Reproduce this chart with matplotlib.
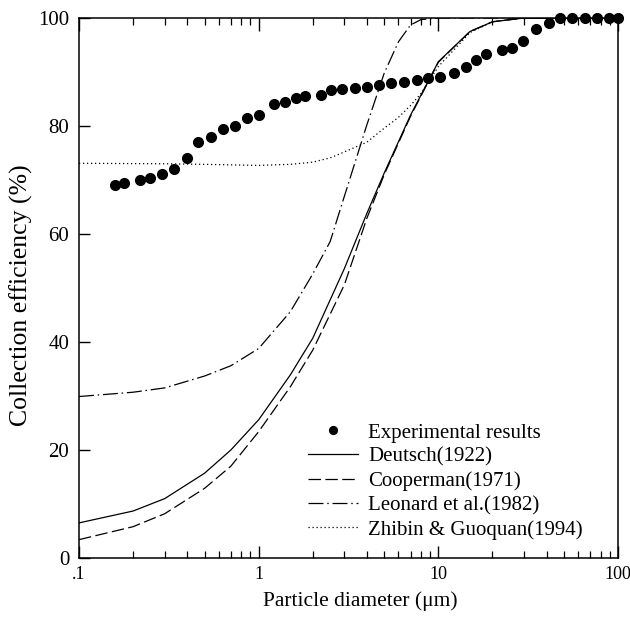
import matplotlib
matplotlib.use("Agg")
import matplotlib.pyplot as plt
from matplotlib.ticker import FixedLocator, FixedFormatter, LogLocator, NullFormatter

plt.rcParams['font.family'] = ['Liberation Serif', 'DejaVu Serif']
plt.rcParams['mathtext.fontset'] = 'stix'

# Experimental results
exp_d = [0.159, 0.179, 0.219, 0.249, 0.290, 0.340, 0.400, 0.460, 0.541, 0.632,
         0.741, 0.865, 1.00, 1.21, 1.41, 1.62, 1.81, 2.22, 2.52, 2.91,
         3.44, 4.01, 4.66, 5.46, 6.40, 7.57, 8.75, 10.2, 12.3, 14.3,
         16.3, 18.4, 22.6, 25.6, 29.7, 34.8, 41.3, 47.6, 55.3, 65.2,
         76.3, 88.7, 100.0]
exp_eff = [69.1, 69.5, 70.0, 70.3, 71.1, 72.0, 74.0, 77.0, 78.0, 79.5,
           80.0, 81.5, 82.0, 84.1, 84.4, 85.1, 85.6, 85.8, 86.6, 86.8,
           87.0, 87.2, 87.5, 87.9, 88.1, 88.5, 88.8, 89.1, 89.8, 91.0,
           92.3, 93.4, 94.1, 94.5, 95.7, 97.9, 99.0, 100.0, 100.0, 100.0,
           100.0, 100.0, 100.0]

# Deutsch (1922)
deu_d = [0.1, 0.2, 0.3, 0.5, 0.7, 1.0, 1.5, 2.0, 3.0, 4.0, 5.0, 7.0, 10.0, 15.0, 20.0, 30.0, 100.0]
deu_eff = [6.5, 8.7, 11.0, 15.7, 20.0, 25.6, 33.9, 40.7, 53.6, 63.8, 71.3, 82.0, 91.9, 97.5, 99.3, 100.0, 100.0]

# Cooperman (1971)
coo_d = [0.1, 0.2, 0.3, 0.5, 0.7, 1.0, 1.5, 2.0, 3.0, 4.0, 5.0, 7.0, 10.0, 15.0, 20.0, 30.0, 100.0]
coo_eff = [3.4, 5.8, 8.2, 12.9, 17.0, 23.4, 31.7, 38.5, 50.6, 62.9, 71.0, 81.8, 91.8, 97.5, 99.3, 100.0, 100.0]

# Leonard et al. (1982)
leo_d = [0.1, 0.2, 0.3, 0.5, 0.7, 1.0, 1.5, 2.0, 2.5, 3.0, 4.0, 5.0, 6.0, 7.0, 8.0, 10.0, 100.0]
leo_eff = [29.9, 30.7, 31.5, 33.7, 35.6, 38.8, 45.6, 52.6, 58.6, 67.0, 80.2, 89.8, 95.6, 98.7, 99.7, 100.0, 100.0]

# Zhibin & Guoquan (1994)
zhi_d = [0.1, 0.3, 0.5, 0.7, 1.0, 1.5, 2.0, 2.5, 3.0, 4.0, 5.0, 6.0, 7.0, 8.0, 10.0, 15.0, 20.0, 30.0, 100.0]
zhi_eff = [73.1, 73.0, 72.9, 72.8, 72.7, 72.9, 73.3, 74.1, 75.2, 77.0, 79.6, 81.6, 83.8, 86.0, 91.0, 97.3, 99.3, 100.0, 100.0]

x_ticks = [0.1, 1, 10, 100]
x_tick_labels = ['.1', '1', '10', '100']
y_ticks = [0, 20, 40, 60, 80, 100]

fig = plt.figure(figsize=(6.30, 6.17), dpi=100)
ax = fig.add_axes([79/630, 1 - 558/617, (618 - 79)/630, (558 - 18)/617])

lw = 0.9
ax.plot(exp_d, exp_eff, 'o', color='black', markersize=7, linestyle='none',
        label='Experimental results', clip_on=False, zorder=5)
ax.plot(deu_d, deu_eff, '-', color='black', lw=lw, label='Deutsch(1922)')
ax.plot(coo_d, coo_eff, color='black', lw=lw, linestyle=(0, (10, 3.5)), label='Cooperman(1971)')
ax.plot(leo_d, leo_eff, color='black', lw=lw, linestyle=(0, (12, 3, 1.2, 3)), label='Leonard et al.(1982)')
ax.plot(zhi_d, zhi_eff, color='black', lw=lw, linestyle=(0, (1, 2.2)), label='Zhibin & Guoquan(1994)')

ax.set_xscale('log')
ax.set_xlim(0.1, 100)
ax.set_ylim(0, 100)

ax.xaxis.set_major_locator(FixedLocator(x_ticks))
ax.xaxis.set_major_formatter(FixedFormatter(x_tick_labels))
ax.xaxis.set_minor_locator(LogLocator(base=10, subs=range(2, 10)))
ax.xaxis.set_minor_formatter(NullFormatter())
ax.yaxis.set_major_locator(FixedLocator(y_ticks))

ax.tick_params(axis='x', which='major', direction='in', length=9, width=1.0, top=True,
               labelsize=13, pad=6)
ax.tick_params(axis='x', which='minor', direction='in', length=5, width=0.9, top=True)
ax.tick_params(axis='y', which='major', direction='in', length=8, width=1.0, right=False,
               labelsize=15, pad=7)
for s in ax.spines.values():
    s.set_linewidth(1.1)

ax.set_xlabel('Particle diameter (\u03bcm)', fontsize=15.5)
ax.set_ylabel('Collection efficiency (%)', fontsize=18.5)
ax.xaxis.set_label_coords((360 - 79) / 539, (558 - 591) / 540)
ax.yaxis.set_label_coords((33 - 79) / 539, (558 - 295) / 540)

leg = ax.legend(loc='upper left', bbox_to_anchor=(308/630, 1 - 423/617),
                bbox_transform=fig.transFigure, frameon=False, fontsize=15,
                handlelength=2.4, handletextpad=0.5, labelspacing=0.22,
                borderpad=0, borderaxespad=0, numpoints=1, markerscale=0.8)

fig.savefig('out.png', dpi=100)
